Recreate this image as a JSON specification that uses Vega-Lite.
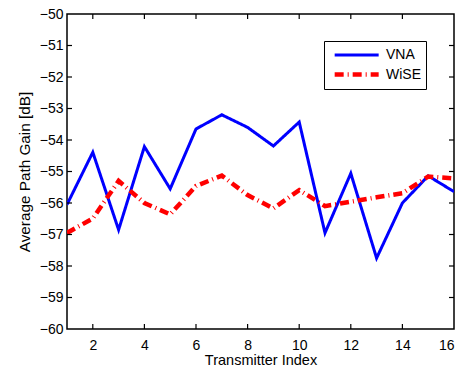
{
  "$schema": "https://vega.github.io/schema/vega-lite/v6.json",
  "width": 387,
  "height": 315,
  "autosize": {"type": "none"},
  "padding": {"left": 67, "top": 14, "right": 10, "bottom": 37},
  "background": "white",
  "config": {
    "font": "Liberation Sans",
    "view": {"stroke": "black", "strokeWidth": 1.5},
    "axis": {
      "grid": false,
      "domain": false,
      "ticks": false,
      "labelColor": "#000000",
      "labelFontSize": 14,
      "titleFontSize": 14.5,
      "titleFontWeight": "normal",
      "titleColor": "#000000",
      "labelFont": "Liberation Sans",
      "titleFont": "Liberation Sans"
    },
    "axisY": {"titleFontSize": 15.3},
    "legend": {
      "labelFont": "Liberation Sans",
      "labelFontSize": 14,
      "labelColor": "#000000"
    }
  },
  "datasets": {
    "curves": [
      {"x": 1, "series": "VNA", "value": -56.05},
      {"x": 2, "series": "VNA", "value": -54.39},
      {"x": 3, "series": "VNA", "value": -56.85},
      {"x": 4, "series": "VNA", "value": -54.21},
      {"x": 5, "series": "VNA", "value": -55.55},
      {"x": 6, "series": "VNA", "value": -53.65},
      {"x": 7, "series": "VNA", "value": -53.2},
      {"x": 8, "series": "VNA", "value": -53.6},
      {"x": 9, "series": "VNA", "value": -54.19},
      {"x": 10, "series": "VNA", "value": -53.43},
      {"x": 11, "series": "VNA", "value": -56.95},
      {"x": 12, "series": "VNA", "value": -55.06},
      {"x": 13, "series": "VNA", "value": -57.75},
      {"x": 14, "series": "VNA", "value": -56.0},
      {"x": 15, "series": "VNA", "value": -55.14},
      {"x": 16, "series": "VNA", "value": -55.64},
      {"x": 1, "series": "WiSE", "value": -56.95},
      {"x": 2, "series": "WiSE", "value": -56.49},
      {"x": 3, "series": "WiSE", "value": -55.3},
      {"x": 4, "series": "WiSE", "value": -56.0},
      {"x": 5, "series": "WiSE", "value": -56.36},
      {"x": 6, "series": "WiSE", "value": -55.46},
      {"x": 7, "series": "WiSE", "value": -55.13},
      {"x": 8, "series": "WiSE", "value": -55.75},
      {"x": 9, "series": "WiSE", "value": -56.17},
      {"x": 10, "series": "WiSE", "value": -55.59},
      {"x": 11, "series": "WiSE", "value": -56.1},
      {"x": 12, "series": "WiSE", "value": -55.96},
      {"x": 13, "series": "WiSE", "value": -55.82},
      {"x": 14, "series": "WiSE", "value": -55.69},
      {"x": 15, "series": "WiSE", "value": -55.16},
      {"x": 16, "series": "WiSE", "value": -55.22}
    ],
    "xticks": [{"t": 2}, {"t": 4}, {"t": 6}, {"t": 8}, {"t": 10}, {"t": 12}, {"t": 14}],
    "yticks": [{"t": -59}, {"t": -58}, {"t": -57}, {"t": -56}, {"t": -55}, {"t": -54}, {"t": -53}, {"t": -52}, {"t": -51}]
  },
  "layer": [
    {
      "data": {"name": "curves"},
      "mark": {"type": "line", "clip": true},
      "encoding": {
        "x": {
          "field": "x", "type": "quantitative",
          "scale": {"domain": [1, 16], "nice": false, "zero": false},
          "axis": {"title": "Transmitter Index", "values": [2, 4, 6, 8, 10, 12, 14, 16], "labelPadding": 9, "titlePadding": 1}
        },
        "y": {
          "field": "value", "type": "quantitative",
          "scale": {"domain": [-60, -50], "nice": false, "zero": false},
          "axis": {"title": "Average Path Gain [dB]", "values": [-60, -59, -58, -57, -56, -55, -54, -53, -52, -51, -50], "labelPadding": 4, "titlePadding": 7}
        },
        "color": {
          "field": "series", "type": "nominal",
          "scale": {"domain": ["VNA", "WiSE"], "range": ["#0000ff", "#ff0000"]},
          "legend": {
            "title": null, "orient": "none", "legendX": 257, "legendY": 27,
            "symbolType": "M-0.59,0H5.41", "symbolSize": 215,
            "strokeColor": "black", "fillColor": "white", "padding": 5,
            "rowPadding": 2.5, "labelOffset": 37
          }
        },
        "strokeDash": {
          "field": "series", "type": "nominal",
          "scale": {"domain": ["VNA", "WiSE"], "range": [[1, 0], [9, 4, 1, 4]]},
          "legend": {
            "title": null, "orient": "none", "legendX": 257, "legendY": 27,
            "symbolType": "M-0.59,0H5.41", "symbolSize": 215,
            "strokeColor": "black", "fillColor": "white", "padding": 5,
            "rowPadding": 2.5, "labelOffset": 37
          }
        },
        "strokeWidth": {
          "field": "series", "type": "nominal",
          "scale": {"domain": ["VNA", "WiSE"], "range": [3, 4.5]},
          "legend": {
            "title": null, "orient": "none", "legendX": 257, "legendY": 27,
            "symbolType": "M-0.59,0H5.41", "symbolSize": 215,
            "strokeColor": "black", "fillColor": "white", "padding": 5,
            "rowPadding": 2.5, "labelOffset": 37
          }
        }
      }
    },
    {
      "data": {"name": "xticks"},
      "mark": {"type": "point", "shape": "M0,0V-1", "size": 100, "stroke": "#000000", "strokeWidth": 1.2, "filled": false, "fill": null, "opacity": 1},
      "encoding": {
        "x": {"field": "t", "type": "quantitative", "scale": {"domain": [1, 16], "nice": false, "zero": false}, "axis": {"title": "Transmitter Index", "values": [2, 4, 6, 8, 10, 12, 14, 16], "labelPadding": 9, "titlePadding": 1}},
        "y": {"datum": -60, "type": "quantitative", "scale": {"domain": [-60, -50], "nice": false, "zero": false}, "axis": {"title": "Average Path Gain [dB]", "values": [-60, -59, -58, -57, -56, -55, -54, -53, -52, -51, -50], "labelPadding": 4, "titlePadding": 7}}
      }
    },
    {
      "data": {"name": "xticks"},
      "mark": {"type": "point", "shape": "M0,0V1", "size": 100, "stroke": "#000000", "strokeWidth": 1.2, "filled": false, "fill": null, "opacity": 1},
      "encoding": {
        "x": {"field": "t", "type": "quantitative", "scale": {"domain": [1, 16], "nice": false, "zero": false}, "axis": {"title": "Transmitter Index", "values": [2, 4, 6, 8, 10, 12, 14, 16], "labelPadding": 9, "titlePadding": 1}},
        "y": {"datum": -50, "type": "quantitative", "scale": {"domain": [-60, -50], "nice": false, "zero": false}, "axis": {"title": "Average Path Gain [dB]", "values": [-60, -59, -58, -57, -56, -55, -54, -53, -52, -51, -50], "labelPadding": 4, "titlePadding": 7}}
      }
    },
    {
      "data": {"name": "yticks"},
      "mark": {"type": "point", "shape": "M0,0H1", "size": 100, "stroke": "#000000", "strokeWidth": 1.2, "filled": false, "fill": null, "opacity": 1},
      "encoding": {
        "y": {"field": "t", "type": "quantitative", "scale": {"domain": [-60, -50], "nice": false, "zero": false}, "axis": {"title": "Average Path Gain [dB]", "values": [-60, -59, -58, -57, -56, -55, -54, -53, -52, -51, -50], "labelPadding": 4, "titlePadding": 7}},
        "x": {"datum": 1, "type": "quantitative", "scale": {"domain": [1, 16], "nice": false, "zero": false}, "axis": {"title": "Transmitter Index", "values": [2, 4, 6, 8, 10, 12, 14, 16], "labelPadding": 9, "titlePadding": 1}}
      }
    },
    {
      "data": {"name": "yticks"},
      "mark": {"type": "point", "shape": "M0,0H-1", "size": 100, "stroke": "#000000", "strokeWidth": 1.2, "filled": false, "fill": null, "opacity": 1},
      "encoding": {
        "y": {"field": "t", "type": "quantitative", "scale": {"domain": [-60, -50], "nice": false, "zero": false}, "axis": {"title": "Average Path Gain [dB]", "values": [-60, -59, -58, -57, -56, -55, -54, -53, -52, -51, -50], "labelPadding": 4, "titlePadding": 7}},
        "x": {"datum": 16, "type": "quantitative", "scale": {"domain": [1, 16], "nice": false, "zero": false}, "axis": {"title": "Transmitter Index", "values": [2, 4, 6, 8, 10, 12, 14, 16], "labelPadding": 9, "titlePadding": 1}}
      }
    }
  ]
}
